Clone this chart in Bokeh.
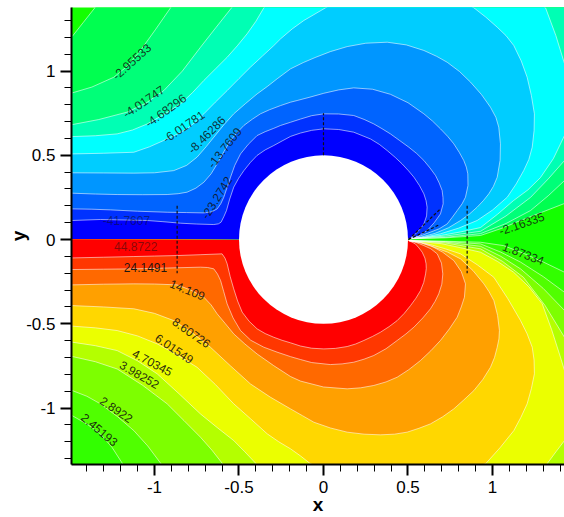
from bokeh.plotting import figure
from bokeh.embed import file_html
from bokeh.resources import INLINE
from bokeh.models import FixedTicker, ColumnDataSource, Range1d
from bokeh.core.properties import value

# isolines, (x, y); points beyond the frame are hidden by the frame
iso_m41 = [(-1.487,.113),(-1.32,.119),(-1.18,.116),(-1.043,.113),(-.95,.106),(-.846,.097),(-.75,.092),(-.649,.089),(-.622,.093),(-.606,.103),(-.59,.135),(-.574,.172),(-.555,.24),(-.531,.311),(-.503,.362),(-.471,.409),(-.432,.458),(-.393,.499),(-.345,.532),(-.294,.558),(-.245,.585),(-.195,.612),(-.136,.632),(-.07,.648),(.002,.657),(.09,.653),(.179,.637),(.278,.597),(.33,.565),(.377,.528),(.425,.487),(.465,.449),(.503,.408),(.535,.370),(.568,.32),(.594,.271),(.607,.23),(.613,.192),(.61,.14),(.594,.093),(.578,.07),(.558,.047),(.53,.02),(.505,.004)]
iso_m23 = [(-1.487,.182),(-1.37,.18),(-1.26,.176),(-1.1,.168),(-.925,.162),(-.81,.16),(-.708,.158),(-.66,.165),(-.629,.182),(-.608,.212),(-.59,.251),(-.57,.31),(-.55,.37),(-.525,.44),(-.491,.508),(-.445,.565),(-.393,.617),(-.345,.64),(-.294,.66),(-.254,.677),(-.195,.696),(-.136,.715),(-.07,.735),(.002,.746),(.09,.745),(.179,.736),(.24,.713),(.298,.686),(.346,.658),(.396,.627),(.45,.588),(.505,.548),(.552,.51),(.594,.469),(.63,.425),(.663,.38),(.685,.335),(.702,.291),(.707,.25),(.708,.212),(.692,.152),(.655,.1),(.613,.053),(.56,.02),(.505,.004)]
iso_m13 = [(-1.487,.275),(-1.35,.27),(-1.221,.267),(-1.07,.266),(-.925,.267),(-.86,.272),(-.807,.281),(-.755,.305),(-.708,.34),(-.665,.39),(-.629,.449),(-.59,.52),(-.55,.588),(-.51,.636),(-.471,.677),(-.42,.715),(-.373,.746),(-.32,.77),(-.254,.795),(-.195,.815),(-.156,.825),(-.08,.845),(.002,.868),(.09,.888),(.179,.9),(.29,.892),(.396,.862),(.5,.812),(.594,.746),(.645,.703),(.692,.657),(.735,.612),(.771,.568),(.803,.518),(.83,.469),(.845,.43),(.854,.39),(.855,.32),(.84,.251),(.82,.212),(.791,.172),(.762,.132),(.732,.093),(.685,.064),(.633,.044),(.57,.02),(.505,.004)]
iso_m8 = [(-1.487,.396),(-1.3,.395),(-1.122,.394),(-1.0,.396),(-.886,.409),(-.81,.44),(-.748,.489),(-.695,.55),(-.649,.607),(-.59,.68),(-.531,.746),(-.46,.808),(-.393,.864),(-.33,.91),(-.274,.954),(-.195,1.013),(-.12,1.05),(-.05,1.08),(.04,1.115),(.14,1.145),(.25,1.165),(.377,1.171),(.49,1.155),(.594,1.122),(.67,1.087),(.732,1.052),(.805,.997),(.87,.934),(.935,.86),(.988,.785),(1.02,.725),(1.037,.667),(1.047,.568),(1.045,.47),(1.028,.37),(1.005,.315),(.978,.271),(.945,.23),(.909,.192),(.862,.15),(.811,.113),(.74,.07),(.66,.037),(.58,.015),(.505,.004)]
iso_m6 = [(-1.487,.508),(-1.3,.512),(-1.122,.518),(-1.03,.55),(-.945,.588),(-.875,.62),(-.807,.657),(-.755,.7),(-.708,.746),(-.64,.815),(-.57,.884),(-.5,.955),(-.432,1.023),(-.36,1.09),(-.294,1.151),(-.254,1.191),(-.185,1.25),(-.116,1.30),(.012,1.375),(.12,1.44),(.239,1.498),(.337,1.517),(.49,1.52),(.633,1.497),(.77,1.44),(.89,1.375),(.96,1.32),(1.028,1.26),(1.08,1.21),(1.126,1.151),(1.17,1.06),(1.205,.963),(1.23,.855),(1.248,.746),(1.246,.647),(1.235,.548),(1.215,.475),(1.185,.41),(1.14,.33),(1.087,.251),(1.0,.175),(.909,.113),(.8,.068),(.692,.034),(.6,.015),(.505,.004)]
iso_m468 = [(-1.487,.611),(-1.35,.616),(-1.221,.627),(-1.13,.65),(-1.043,.686),(-.945,.742),(-.846,.805),(-.775,.872),(-.708,.944),(-.64,1.012),(-.57,1.082),(-.51,1.15),(-.452,1.221),(-.4,1.295),(-.353,1.375),(-.2,1.55),(.3,1.72),(.8,1.65),(1.1,1.55),(1.314,1.375),(1.375,1.21),(1.426,1.044),(1.47,.83),(1.426,.617),(1.36,.48),(1.284,.368),(1.21,.295),(1.124,.231),(1.03,.15),(.929,.071),(.81,.045),(.7,.025),(.6,.012),(.505,.004)]
iso_m401 = [(-1.487,.682),(-1.33,.712),(-1.162,.756),(-1.05,.81),(-.945,.884),(-.835,1.0),(-.728,1.141),(-.635,1.26),(-.544,1.375),(-.2,1.85),(1,1.9),(1.6,1.2),(1.6,.7),(1.426,.469),(1.33,.36),(1.225,.25),(1.08,.14),(.929,.049),(.72,.02),(.505,.004)]
iso_m295 = [(-1.487,.87),(-1.37,.905),(-1.241,.963),(-1.16,1.03),(-1.083,1.122),(-.995,1.245),(-.905,1.375),(-.5,2.0),(1,2.1),(1.8,1.2),(1.7,.6),(1.426,.35),(1.33,.26),(1.225,.172),(1.08,.095),(.929,.035),(.72,.013),(.505,.004)]
iso_m216 = [(-1.487,1.205),(-1.42,1.29),(-1.353,1.375),(-.8,2.2),(1,2.3),(1.9,1),(1.8,.4),(1.426,.214),(1.3,.165),(1.166,.113),(1.05,.065),(.929,.024),(.72,.01),(.505,.004)]

iso_p24 = [(-1.487,-.109),(-1.3,-.105),(-1.122,-.101),(-1,-.098),(-.866,-.095),(-.73,-.09),(-.6,-.085),(-.583,-.11),(-.57,-.144),(-.552,-.22),(-.531,-.293),(-.508,-.365),(-.481,-.431),(-.44,-.485),(-.393,-.53),(-.345,-.558),(-.294,-.58),(-.245,-.598),(-.195,-.613),(-.136,-.632),(-.07,-.645),(.002,-.649),(.07,-.646),(.14,-.635),(.19,-.62),(.239,-.599),(.29,-.575),(.337,-.55),(.388,-.517),(.436,-.481),(.478,-.438),(.515,-.392),(.547,-.348),(.574,-.303),(.593,-.255),(.604,-.204),(.608,-.172),(.607,-.144),(.6,-.11),(.584,-.075),(.565,-.05),(.544,-.026),(.505,-.006)]
iso_p241 = [(-1.487,-.178),(-1.3,-.176),(-1.122,-.174),(-.925,-.169),(-.728,-.164),(-.685,-.166),(-.649,-.174),(-.627,-.205),(-.609,-.243),(-.59,-.31),(-.57,-.382),(-.535,-.465),(-.491,-.54),(-.43,-.598),(-.353,-.639),(-.275,-.668),(-.195,-.695),(-.136,-.712),(-.07,-.73),(.041,-.742),(.11,-.738),(.179,-.728),(.24,-.71),(.298,-.688),(.37,-.648),(.436,-.599),(.488,-.56),(.535,-.52),(.588,-.465),(.633,-.411),(.66,-.367),(.682,-.322),(.7,-.265),(.706,-.204),(.698,-.14),(.673,-.085),(.635,-.055),(.594,-.036),(.55,-.018),(.505,-.006)]
iso_p14 = [(-1.487,-.269),(-1.3,-.265),(-1.122,-.263),(-1,-.264),(-.866,-.269),(-.785,-.3),(-.708,-.342),(-.665,-.388),(-.629,-.441),(-.58,-.5),(-.531,-.56),(-.465,-.62),(-.393,-.679),(-.295,-.748),(-.195,-.813),(-.136,-.84),(.0,-.875),(.14,-.886),(.22,-.88),(.298,-.866),(.37,-.845),(.436,-.817),(.505,-.772),(.574,-.718),(.635,-.66),(.692,-.599),(.745,-.53),(.791,-.461),(.815,-.4),(.834,-.342),(.84,-.263),(.815,-.19),(.771,-.125),(.705,-.075),(.633,-.036),(.57,-.018),(.505,-.006)]
iso_p86 = [(-1.487,-.392),(-1.3,-.4),(-1.122,-.411),(-1.0,-.438),(-.886,-.481),(-.775,-.555),(-.669,-.639),(-.55,-.75),(-.432,-.857),(-.315,-.935),(-.195,-1.005),(-.125,-1.045),(-.057,-1.084),(.04,-1.118),(.14,-1.143),(.24,-1.155),(.337,-1.159),(.42,-1.155),(.495,-1.143),(.565,-1.12),(.633,-1.094),(.705,-1.052),(.771,-1.005),(.83,-.952),(.89,-.896),(.943,-.83),(.988,-.758),(1.012,-.7),(1.028,-.639),(1.038,-.59),(1.041,-.54),(1.03,-.45),(1.008,-.362),(.98,-.31),(.949,-.263),(.885,-.185),(.811,-.115),(.735,-.075),(.653,-.045),(.58,-.02),(.505,-.006)]
iso_p60 = [(-1.487,-.514),(-1.35,-.524),(-1.221,-.540),(-1.1,-.572),(-.984,-.619),(-.865,-.685),(-.748,-.758),(-.64,-.86),(-.531,-.975),(-.43,-1.065),(-.333,-1.153),(-.265,-1.2),(-.195,-1.242),(-.135,-1.285),(-.077,-1.331),(.35,-1.5),(.959,-1.331),(1.045,-1.235),(1.126,-1.134),(1.168,-1.055),(1.205,-.975),(1.23,-.885),(1.248,-.797),(1.246,-.715),(1.235,-.639),(1.205,-.56),(1.166,-.481),(1.09,-.35),(1.008,-.224),(.91,-.15),(.811,-.085),(.72,-.055),(.633,-.03),(.57,-.015),(.505,-.006)]
iso_p47 = [(-1.487,-.609),(-1.35,-.63),(-1.221,-.659),(-1.1,-.72),(-.984,-.797),(-.855,-.915),(-.728,-1.035),(-.63,-1.115),(-.531,-1.193),(-.465,-1.26),(-.402,-1.327),(-.3,-1.5),(.5,-1.8),(1,-1.7),(1.323,-1.331),(1.375,-1.26),(1.426,-1.193),(1.48,-1.0),(1.426,-.777),(1.402,-.698),(1.35,-.535),(1.294,-.381),(1.215,-.28),(1.125,-.194),(1.03,-.13),(.929,-.075),(.81,-.048),(.7,-.025),(.6,-.015),(.505,-.006)]
iso_p39 = [(-1.487,-.694),(-1.35,-.725),(-1.221,-.768),(-1.07,-.865),(-.925,-.975),(-.825,-1.075),(-.728,-1.173),(-.66,-1.25),(-.6,-1.327),(-.4,-1.7),(1,-2),(1.7,-1.2),(1.6,-.9),(1.426,-.58),(1.31,-.39),(1.183,-.224),(1.06,-.13),(.929,-.055),(.72,-.02),(.505,-.006)]
iso_p28 = [(-1.487,-.896),(-1.4,-.93),(-1.32,-.975),(-1.22,-1.05),(-1.122,-1.134),(-1.04,-1.225),(-.964,-1.327),(-.7,-1.8),(1,-2.2),(1.9,-1.2),(1.7,-.7),(1.426,-.421),(1.3,-.29),(1.166,-.174),(1.05,-.1),(.929,-.04),(.72,-.015),(.505,-.006)]
iso_p24b = [(-1.487,-1.045),(-1.4,-1.095),(-1.32,-1.153),(-1.25,-1.235),(-1.191,-1.327),(-.9,-2),(1,-2.4),(2,-1.2),(1.8,-.6),(1.426,-.313),(1.3,-.22),(1.166,-.134),(1.05,-.075),(.929,-.026),(.72,-.012),(.505,-.006)]
iso_p187 = [(-2,-2.6),(2,-2.6),(2,-.6),(1.426,-.194),(1.302,-.134),(1.18,-.08),(1.065,-.036),(.929,-.016),(.72,-.01),(.505,-.006)]

band_base = "#14ff00"
upper_bands = [(iso_m216,"#00ff50"),(iso_m295,"#00ff78"),(iso_m401,"#00ffb4"),(iso_m468,"#00ffff"),
               (iso_m6,"#00cdff"),(iso_m8,"#0096ff"),(iso_m13,"#0064ff"),(iso_m23,"#0032ff"),(iso_m41,"#0000ff")]
lower_bands = [(iso_p187,"#32ff00"),(iso_p24b,"#50ff00"),(iso_p28,"#7dff00"),(iso_p39,"#b4ff00"),(iso_p47,"#ebff00"),
               (iso_p60,"#ffd700"),(iso_p86,"#ffa000"),(iso_p14,"#ff6900"),(iso_p241,"#ff3700"),(iso_p24,"#ff0000")]

label_text = ["-2.95533","-4.01747","-4.68296","-6.01781","-8.46286","-13.7609","-23.2742","-41.7607","44.8722","24.1491","14.109","8.60726","6.01549","4.70345","3.98252","2.8922","2.45193","-2.16335","1.87334"]
label_x = [-1.136,-1.065,-.935,-.828,-.692,-.586,-.633,-1.166,-1.111,-1.053,-.805,-.781,-.882,-1.012,-1.089,-1.225,-1.325,1.172,1.183]
label_y = [1.056,.819,.766,.671,.623,.546,.249,.112,-.042,-.166,-.297,-.552,-.647,-.73,-.801,-1.009,-1.128,.095,-.083]
label_angle = [42,34,36,34,45,52,58,0,0,0,-22,-35,-34,-28,-30,-34,-40,19,-21]
label_fade = [.85,.85,.85,.85,.85,.85,.85,.5,.5,.95,.9,.9,.9,.9,.9,.9,.9,.85,.85]

dash_x = [[-.866,-.866],[0,0],[.85,.85],[.503,.69],[.503,.69]]
dash_y = [[.2,-.2],[.5,.75],[.2,-.2],[.0,.18],[.0,.09]]

x_ticks = [-1,-.5,0,.5,1]
y_ticks = [-1,-.5,0,.5,1]
x_minor = [-1.4,-1.3,-1.2,-1.1,-.9,-.8,-.7,-.6,-.4,-.3,-.2,-.1,.1,.2,.3,.4,.6,.7,.8,.9,1.1,1.2,1.3,1.4]
y_minor = [-1.3,-1.2,-1.1,-.9,-.8,-.7,-.6,-.4,-.3,-.2,-.1,.1,.2,.3,.4,.6,.7,.8,.9,1.1,1.2,1.3]
tick_text = {-1: "-1", -0.5: "-0.5", 0: "0", 0.5: "0.5", 1: "1"}
x_start, x_end = -1.491, 1.426
y_start, y_end = -1.335, 1.377

p = figure(width=564, height=517, toolbar_location=None, output_backend="svg",
           x_range=Range1d(x_start, x_end), y_range=Range1d(y_start, y_end),
           min_border_left=71, min_border_right=0, min_border_top=7, min_border_bottom=53,
           x_axis_label="x", y_axis_label="y")
p.outline_line_color = None
p.grid.visible = False
p.background_fill_color = band_base

for bands in (upper_bands, lower_bands):
    for iso, col in bands:
        xs = [x_start] + [a for a, _ in iso] + [x_start]
        ys = [iso[0][1]] + [b for _, b in iso] + [0]
        p.patch(xs, ys, fill_color=col, line_color=None)

all_iso = [i for i, _ in upper_bands + lower_bands]
p.multi_line([[a for a, _ in i] for i in all_iso], [[b for _, b in i] for i in all_iso],
             line_color="white", line_alpha=0.55, line_width=1)

p.ellipse(x=[0], y=[0], width=[1.0], height=[1.0], fill_color="white", line_color=None)
p.multi_line(dash_x, dash_y, line_color="#111111", line_width=1.2, line_dash="3 2")

src = ColumnDataSource(dict(x=label_x, y=label_y, t=label_text, a=label_angle, f=label_fade))
p.text("x", "y", text="t", angle="a", angle_units="deg", source=src,
       text_font=value("Liberation Sans"), text_font_size="12px", text_color="#111111",
       text_alpha="f", text_align="center", text_baseline="middle")

for ax, tk, mn in ((p.xaxis[0], x_ticks, x_minor), (p.yaxis[0], y_ticks, y_minor)):
    ax.ticker = FixedTicker(ticks=tk, minor_ticks=mn)
    ax.major_label_overrides = tick_text
    ax.axis_line_color = "black"
    ax.axis_line_width = 2
    ax.major_tick_line_color = "black"
    ax.major_tick_line_width = 2
    ax.minor_tick_line_color = "black"
    ax.minor_tick_line_width = 1
    ax.major_tick_in = 0
    ax.major_tick_out = 11
    ax.minor_tick_in = 0
    ax.minor_tick_out = 7
    ax.major_label_text_font = "Liberation Sans"
    ax.major_label_text_font_size = "17px"
    ax.major_label_text_color = "black"
    ax.axis_label_text_font = "Liberation Sans"
    ax.axis_label_text_font_size = "19px"
    ax.axis_label_text_font_style = "bold"
    ax.axis_label_text_color = "black"
    ax.major_label_standoff = 5
p.xaxis[0].axis_label_standoff = -2
p.yaxis[0].axis_label_standoff = -6

open("out.html", "w").write(file_html(p, INLINE))
